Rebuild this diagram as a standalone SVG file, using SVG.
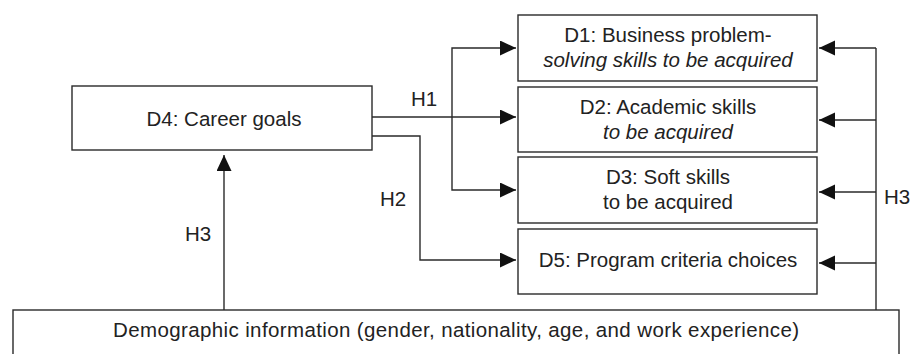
<svg xmlns="http://www.w3.org/2000/svg" width="912" height="354" viewBox="0 0 912 354">
<style>
.box{fill:#fff;stroke:#2a2a2a;stroke-width:1.4}
.t{font-family:"Liberation Sans",Arial,sans-serif;font-size:20.5px;fill:#222;text-anchor:middle}
.i{font-style:italic}
.c{fill:none;stroke:#2a2a2a;stroke-width:1.4}
</style>
<defs>
<marker id="ah" markerUnits="userSpaceOnUse" markerWidth="16" markerHeight="16" refX="16" refY="7.5" orient="auto">
<path d="M0,0 L16,7.5 L0,15 z" fill="#111"/>
</marker>
</defs>
<rect width="912" height="354" fill="#fff"/>
<g id="connectors">
<path class="c" d="M372,117 H516" marker-end="url(#ah)"/>
<path class="c" d="M452,117 V48 H516" marker-end="url(#ah)"/>
<path class="c" d="M452,117 V190 H516" marker-end="url(#ah)"/>
<path class="c" d="M372,136 H420 V260 H516" marker-end="url(#ah)"/>
<path class="c" d="M224,310 V155" marker-end="url(#ah)"/>
<path class="c" d="M876,310 V48"/>
<path class="c" d="M876,48 H819" marker-end="url(#ah)"/>
<path class="c" d="M876,120 H819" marker-end="url(#ah)"/>
<path class="c" d="M876,192 H819" marker-end="url(#ah)"/>
<path class="c" d="M876,263 H819" marker-end="url(#ah)"/>
<text class="t" x="424" y="106">H1</text>
<text class="t" x="393" y="206">H2</text>
<text class="t" x="198" y="241">H3</text>
<text class="t" x="897" y="204">H3</text>
</g>
<g id="D4">
<rect class="box" x="72" y="86" width="300" height="64"/>
<text class="t" x="224" y="126">D4: Career goals</text>
</g>
<g id="D1">
<rect class="box" x="518" y="15" width="299" height="66"/>
<text class="t" x="668" y="42">D1: Business problem-</text>
<text class="t i" x="668" y="67">solving skills to be acquired</text>
</g>
<g id="D2">
<rect class="box" x="518" y="87" width="299" height="65"/>
<text class="t" x="668" y="114">D2: Academic skills</text>
<text class="t i" x="668" y="139">to be acquired</text>
</g>
<g id="D3">
<rect class="box" x="518" y="157" width="299" height="66"/>
<text class="t" x="668" y="184">D3: Soft skills</text>
<text class="t" x="668" y="209">to be acquired</text>
</g>
<g id="D5">
<rect class="box" x="518" y="229" width="299" height="65"/>
<text class="t" x="668" y="267">D5: Program criteria choices</text>
</g>
<g id="Demographics">
<rect class="box" x="13" y="310" width="886" height="60"/>
<text class="t" x="456" y="337" textLength="686" lengthAdjust="spacing">Demographic information (gender, nationality, age, and work experience)</text>
</g>
</svg>
